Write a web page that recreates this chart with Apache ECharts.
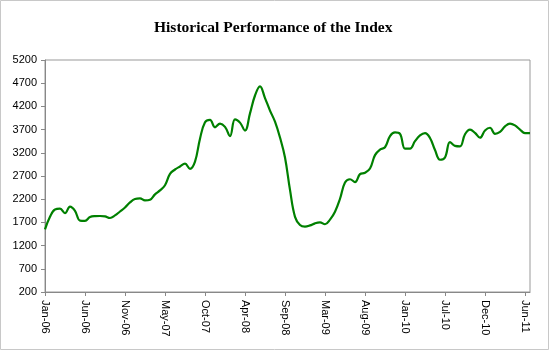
<!DOCTYPE html>
<html>
<head>
<meta charset="utf-8">
<script src="https://cdn.jsdelivr.net/npm/echarts@6/dist/echarts.min.js"></script>
<style>
  html, body { margin: 0; padding: 0; background: #fff; }
  #chart { width: 550px; height: 351px; }
</style>
</head>
<body>
<div id="chart"></div>
<script>
// axis labels shown under every 8th point
var tickLabels = ['Jan-06','Jun-06','Nov-06','May-07','Oct-07','Apr-08','Sep-08',
                  'Mar-09','Aug-09','Jan-10','Jul-10','Dec-10','Jun-11'];
var pointsPerLabel = 8;

// index level
var indexValues = [
    1550, 1820, 1980, 1995, 1900, 2040, 1950, 1740, 1735, 1815,
    1835, 1838, 1830, 1795, 1850, 1935, 2020, 2130, 2205, 2218,
    2175, 2190, 2305, 2390, 2500, 2745, 2840, 2905, 2965, 2855,
    3010, 3505, 3860, 3910, 3750, 3830, 3760, 3560, 3920, 3850,
    3680, 4050, 4435, 4630, 4380, 4110, 3870, 3530, 3100, 2400,
    1820, 1645, 1610, 1635, 1680, 1700, 1660, 1760, 1930, 2210,
    2560, 2630, 2570, 2740, 2770, 2860, 3150, 3270, 3320, 3560,
    3640, 3610, 3290, 3290, 3450, 3575, 3625, 3520, 3260, 3050,
    3100, 3430, 3350, 3340, 3600, 3700, 3630, 3525, 3680, 3740,
    3610, 3650, 3770, 3830, 3790, 3700, 3625, 3625
];

var categories = [];
for (var i = 0; i < indexValues.length; i++) categories.push(i);

var option = {
    animation: false,
    backgroundColor: '#fff',
    title: {
        text: 'Historical Performance of the Index',
        left: 149,
        top: 15,
        textStyle: {
            fontFamily: 'Liberation Serif',
            fontWeight: 'bold',
            fontSize: 15.5,
            color: '#000'
        }
    },
    graphic: [{
        type: 'rect',
        shape: { x: 0.5, y: 0.5, width: 548, height: 349 },
        style: { fill: 'none', stroke: '#c8c8c8', lineWidth: 1 }
    }],
    grid: {
        left: 45,
        top: 60,
        width: 485,
        height: 232,
        show: true,
        borderColor: '#999',
        borderWidth: 1
    },
    xAxis: {
        type: 'category',
        boundaryGap: false,
        data: categories,
        axisLine: { lineStyle: { color: '#888' } },
        axisTick: { interval: pointsPerLabel - 1, length: 4, lineStyle: { color: '#888' } },
        axisLabel: {
            interval: pointsPerLabel - 1,
            rotate: -90,
            margin: 8,
            fontFamily: 'Liberation Sans',
            fontSize: 11,
            color: '#000',
            formatter: function (val, idx) {
                return tickLabels[idx / pointsPerLabel] || '';
            }
        },
        splitLine: { show: false }
    },
    yAxis: {
        type: 'value',
        min: 200,
        max: 5200,
        interval: 500,
        axisLine: { show: true, lineStyle: { color: '#888' } },
        axisTick: { show: true, length: 4, lineStyle: { color: '#888' } },
        axisLabel: {
            margin: 8,
            fontFamily: 'Liberation Sans',
            fontSize: 11,
            color: '#000',
            formatter: function (v) { return String(v); }
        },
        splitLine: { show: false }
    },
    series: [{
        name: 'Index',
        type: 'line',
        data: indexValues,
        smooth: 0.4,
        showSymbol: false,
        lineStyle: { color: '#008000', width: 2.2 }
    }]
};

var chart = echarts.init(document.getElementById('chart'));
chart.setOption(option);
</script>
</body>
</html>
